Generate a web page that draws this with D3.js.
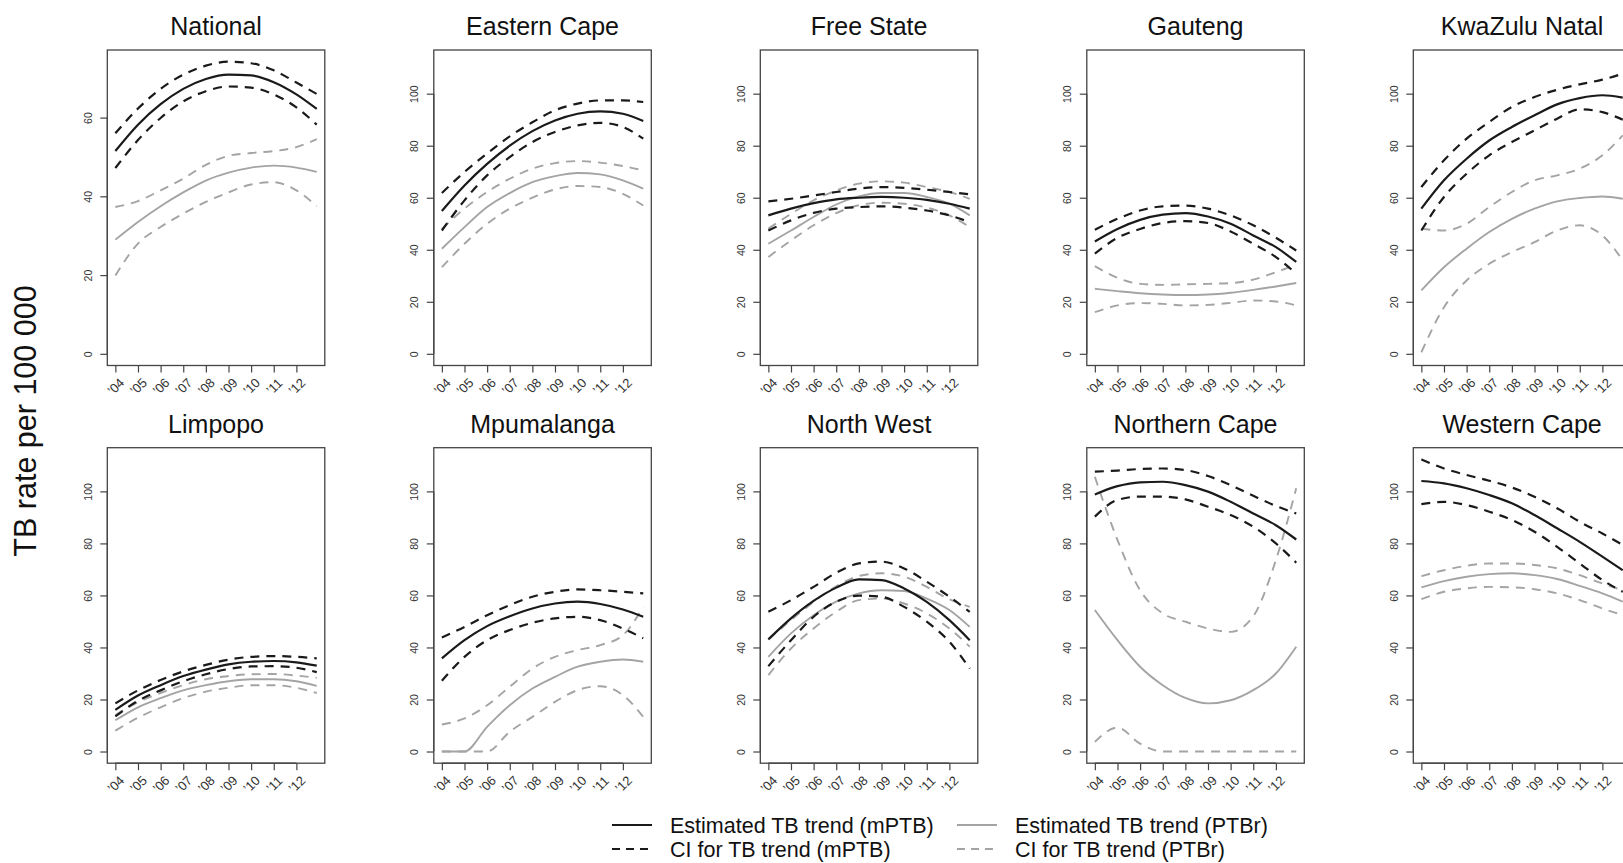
<!DOCTYPE html>
<html lang="en">
  <head>
    <meta charset="utf-8">
    <title>TB trends by province</title>
    <style>
      body {
        margin: 0;
        background: #fff;
      }
      svg text {
        font-family: "Liberation Sans", Arial, Helvetica, sans-serif;
      }
      .line {
        fill: none;
      }
      .axis path, .axis line {
        stroke: #444;
        stroke-width: 1.2px;
      }
    </style>
  </head>

  <body>
    <svg id="wrapper" width="1623" height="863"></svg>

    <script src="https://cdnjs.cloudflare.com/ajax/libs/d3/7.8.5/d3.min.js"></script>
    <script>
    // panels, in reading order (National has its own y scale)
    const regions = ['National', 'Eastern Cape', 'Free State', 'Gauteng', 'KwaZulu Natal',
      'Limpopo', 'Mpumalanga', 'North West', 'Northern Cape', 'Western Cape'];

    // x positions of the points ('04 .. '12, then end of series)
    const years = [2004, 2005, 2006, 2007, 2008, 2009, 2010, 2011, 2012, 2012.9];
    const tickYears = [2004, 2005, 2006, 2007, 2008, 2009, 2010, 2011, 2012];
    const tickLabels = ['\u201904', '\u201905', '\u201906', '\u201907', '\u201908', '\u201909', '\u201910', '\u201911', '\u201912'];
    const nationalTicks = [0, 20, 40, 60];
    const provinceTicks = [0, 20, 40, 60, 80, 100];

    // estimated TB trend (mPTB), one row per region
    const mptbEst = [
      [51.5, 58.2, 63.4, 67.3, 69.8, 70.9, 70.7, 69.0, 65.9, 62.2],
      [54.9, 64.7, 73.0, 80.0, 85.6, 89.7, 92.3, 93.2, 92.3, 89.5],
      [53.2, 55.8, 57.9, 59.4, 60.0, 60.3, 60.0, 59.2, 57.7, 55.8],
      [43.2, 48.0, 51.5, 53.5, 54.1, 52.8, 50.0, 45.5, 41.0, 35.3],
      [55.8, 66.7, 75.0, 82.0, 87.2, 91.7, 95.9, 98.3, 99.4, 98.5],
      [16.0, 21.5, 25.5, 29.0, 31.5, 33.5, 34.5, 34.8, 34.3, 33.0],
      [35.8, 42.8, 48.2, 52.0, 55.0, 56.9, 57.6, 56.7, 54.6, 51.8],
      [43.1, 51.2, 57.9, 63.0, 66.2, 65.9, 62.7, 57.5, 50.5, 42.8],
      [98.8, 102.0, 103.5, 103.7, 102.4, 99.9, 96.0, 91.5, 87.0, 81.5],
      [104.0, 103.1, 101.2, 98.6, 95.4, 90.9, 85.8, 80.6, 74.9, 69.7]
    ];
    const mptbHi = [
      [56.0, 62.3, 67.3, 70.9, 73.2, 74.2, 73.8, 72.0, 68.9, 66.0],
      [61.8, 69.9, 77.0, 83.6, 89.0, 93.6, 96.2, 97.4, 97.4, 96.8],
      [58.6, 59.6, 60.9, 62.2, 63.5, 64.1, 63.8, 63.1, 62.2, 61.3],
      [47.7, 51.9, 55.1, 56.7, 57.0, 55.8, 53.2, 49.4, 44.6, 39.7],
      [64.1, 74.4, 82.7, 89.1, 94.9, 98.7, 101.5, 103.6, 105.4, 107.7],
      [18.5, 23.5, 27.5, 30.8, 33.3, 35.3, 36.4, 36.7, 36.4, 35.8],
      [43.8, 47.9, 52.4, 56.3, 59.5, 61.4, 62.3, 62.0, 61.4, 60.8],
      [53.7, 58.2, 63.3, 68.7, 72.3, 73.0, 70.4, 65.3, 59.5, 53.7],
      [107.6, 108.0, 108.6, 108.8, 108.2, 105.9, 102.4, 98.3, 94.4, 91.5],
      [112.3, 108.8, 106.3, 104.1, 101.5, 97.9, 93.5, 88.3, 83.8, 79.4]
    ];
    const mptbLo = [
      [47.2, 54.3, 59.9, 64.1, 66.7, 67.9, 67.6, 65.9, 62.6, 58.2],
      [47.4, 59.0, 68.6, 75.6, 81.4, 85.3, 87.8, 88.8, 87.2, 82.7],
      [47.4, 51.3, 54.2, 55.8, 56.4, 56.7, 56.2, 55.1, 53.2, 50.6],
      [38.5, 44.6, 48.0, 50.3, 51.0, 50.3, 47.0, 42.3, 37.2, 30.8],
      [47.4, 60.3, 69.2, 76.3, 81.4, 85.9, 90.4, 94.0, 92.9, 90.0],
      [13.5, 19.5, 23.5, 27.0, 29.7, 31.7, 32.7, 32.8, 32.2, 30.5],
      [27.2, 36.4, 42.8, 46.7, 49.5, 51.2, 51.8, 50.5, 47.3, 43.5],
      [32.8, 42.8, 51.8, 57.6, 59.9, 59.5, 55.6, 49.9, 42.2, 31.9],
      [90.3, 96.7, 98.0, 98.0, 96.9, 94.1, 90.9, 86.4, 80.0, 72.6],
      [95.1, 96.0, 94.7, 92.2, 89.0, 84.5, 78.7, 72.3, 65.9, 61.4]
    ];

    // estimated TB trend (PTBr), one row per region
    const ptbrEst = [
      [29.0, 33.5, 37.5, 41.0, 44.0, 46.0, 47.3, 47.8, 47.3, 46.2],
      [40.4, 48.7, 56.4, 61.8, 66.0, 68.3, 69.5, 69.0, 66.7, 63.5],
      [42.3, 47.4, 52.6, 57.4, 60.5, 61.8, 61.8, 60.3, 57.7, 53.2],
      [25.0, 24.1, 23.3, 22.8, 22.6, 22.8, 23.5, 24.6, 25.9, 27.2],
      [24.4, 33.3, 40.4, 46.8, 51.9, 55.8, 58.6, 59.9, 60.5, 59.6],
      [12.0, 17.0, 20.5, 23.5, 25.5, 27.0, 27.8, 27.8, 27.0, 25.2],
      [0.0, 0.0, 9.5, 17.8, 24.2, 28.7, 32.6, 34.5, 35.4, 34.5],
      [36.4, 45.4, 52.4, 57.6, 60.8, 62.0, 61.7, 58.8, 54.4, 47.9],
      [54.4, 42.8, 32.6, 25.5, 20.6, 18.5, 19.7, 23.6, 30.0, 40.3],
      [63.1, 65.5, 67.2, 68.2, 68.5, 67.8, 66.3, 63.7, 60.8, 57.6]
    ];
    const ptbrHi = [
      [37.3, 38.8, 41.5, 44.5, 48.0, 50.3, 51.0, 51.5, 52.5, 54.5],
      [48.0, 55.8, 62.2, 67.3, 71.2, 73.3, 74.1, 73.5, 72.2, 70.5],
      [48.1, 53.8, 59.0, 62.8, 65.4, 66.3, 65.8, 64.1, 62.2, 59.6],
      [33.7, 29.2, 26.9, 26.5, 26.7, 26.9, 27.2, 28.5, 31.4, 34.2],
      [48.1, 47.4, 50.0, 56.4, 62.2, 66.7, 68.6, 71.2, 76.3, 84.0],
      [14.0, 19.0, 22.5, 25.5, 27.8, 29.0, 29.7, 29.8, 29.2, 28.3],
      [10.4, 12.7, 17.8, 24.9, 31.9, 36.4, 39.0, 40.9, 44.7, 55.6],
      [43.1, 50.5, 57.5, 63.5, 67.5, 68.5, 67.2, 63.3, 58.5, 55.6],
      [105.6, 81.3, 62.0, 53.1, 49.9, 47.3, 46.0, 52.0, 73.6, 101.2],
      [67.4, 69.7, 71.4, 72.3, 72.3, 71.7, 70.4, 67.8, 64.6, 62.0]
    ];
    const ptbrLo = [
      [19.9, 28.0, 32.2, 35.6, 38.6, 41.0, 43.0, 43.6, 41.5, 37.5],
      [33.3, 42.3, 50.0, 55.8, 60.0, 63.2, 64.5, 64.1, 61.5, 57.0],
      [37.2, 43.6, 49.4, 54.1, 57.1, 58.1, 57.7, 56.2, 53.2, 48.7],
      [16.0, 18.6, 19.5, 19.2, 18.6, 18.8, 19.6, 20.5, 20.1, 18.6],
      [0.6, 17.9, 28.2, 34.6, 39.1, 42.9, 47.4, 49.4, 45.5, 35.9],
      [8.0, 13.0, 17.0, 20.5, 23.0, 24.5, 25.5, 25.5, 24.5, 22.5],
      [0.0, 0.0, 0.0, 7.6, 13.3, 19.1, 23.6, 25.1, 21.7, 13.3],
      [29.4, 39.6, 47.3, 53.7, 58.2, 58.8, 56.9, 53.1, 47.3, 40.3],
      [3.7, 9.2, 3.0, 0.0, 0.0, 0.0, 0.0, 0.0, 0.0, 0.0],
      [58.6, 61.4, 62.7, 63.3, 63.1, 62.4, 60.8, 58.2, 55.0, 52.4]
    ];

    const legendLabels = [
      'Estimated TB trend (mPTB)', 'CI for TB trend (mPTB)',
      'Estimated TB trend (PTBr)', 'CI for TB trend (PTBr)'
    ];

    // layout (panel boxes)
    const colLeft = 107.3, colStep = 326.5, boxW = 217.5, boxH = 315.5;
    const rowTop = [50, 447.7];
    const black = '#1a1a1a';
    const grey = '#a4a4a4';

    const svg = d3.select('#wrapper');

    // R style axis limits: data range widened by 4% on both sides
    function pad(lo, hi) {
      const d = (hi - lo) * 0.04;
      return [lo - d, hi + d];
    }

    const provMax = d3.max(mptbHi.slice(1).concat(ptbrHi.slice(1)), r => d3.max(r));
    const natMax = d3.max(mptbHi[0].concat(ptbrHi[0]));

    const series = [
      {vals: mptbEst, color: black, width: 2.2, dash: null},
      {vals: mptbHi, color: black, width: 2.2, dash: '9,7'},
      {vals: mptbLo, color: black, width: 2.2, dash: '9,7'},
      {vals: ptbrEst, color: grey, width: 1.9, dash: null},
      {vals: ptbrHi, color: grey, width: 1.9, dash: '9,7'},
      {vals: ptbrLo, color: grey, width: 1.9, dash: '9,7'}
    ];

    regions.forEach(function(name, i) {
      const left = colLeft + (i % 5) * colStep;
      const top = rowTop[Math.floor(i / 5)];

      const x = d3.scaleLinear()
        .domain(pad(years[0], years[years.length - 1]))
        .range([left, left + boxW]);
      const y = d3.scaleLinear()
        .domain(pad(0, i === 0 ? natMax : provMax))
        .range([top + boxH, top]);

      // clip lines to the plot region
      svg.append('clipPath')
        .attr('id', 'clip' + i)
        .append('rect')
        .attr('x', left).attr('y', top)
        .attr('width', boxW).attr('height', boxH);

      const line = d3.line()
        .x(function(d, j) { return x(years[j]); })
        .y(function(d) { return y(d); })
        .curve(d3.curveMonotoneX);

      const g = svg.append('g').attr('clip-path', 'url(#clip' + i + ')');
      // draw grey (PTBr) first, black (mPTB) on top
      series.slice(3).concat(series.slice(0, 3)).forEach(function(s) {
        g.append('path')
          .datum(s.vals[i])
          .attr('class', 'line')
          .attr('stroke', s.color)
          .attr('stroke-width', s.width)
          .attr('stroke-dasharray', s.dash)
          .attr('d', line);
      });

      // box
      svg.append('rect')
        .attr('x', left).attr('y', top)
        .attr('width', boxW).attr('height', boxH)
        .attr('fill', 'none')
        .attr('stroke', '#444')
        .attr('stroke-width', 1.3);

      // y-axis
      const ticks = i === 0 ? nationalTicks : provinceTicks;
      const yAxis = svg.append('g')
        .attr('class', 'axis')
        .attr('transform', 'translate(' + left + ',0)')
        .call(d3.axisLeft(y).tickValues(ticks).tickSize(7).tickSizeOuter(0));
      yAxis.select('.domain')
        .attr('d', 'M0,' + y(ticks[0]) + 'V' + y(ticks[ticks.length - 1]));
      yAxis.selectAll('text')
        .attr('x', null).attr('dy', '0.35em')
        .attr('text-anchor', 'middle')
        .attr('transform', 'translate(-19,0) rotate(-90)')
        .attr('fill', '#333')
        .style('font-size', '10.5px');

      // x-axis
      const xAxis = svg.append('g')
        .attr('class', 'axis')
        .attr('transform', 'translate(0,' + (top + boxH) + ')')
        .call(d3.axisBottom(x).tickValues(tickYears)
          .tickFormat(function(d, j) { return tickLabels[j]; })
          .tickSize(7).tickSizeOuter(0));
      xAxis.select('.domain')
        .attr('d', 'M' + x(tickYears[0]) + ',0H' + x(tickYears[tickYears.length - 1]));
      xAxis.selectAll('text')
        .attr('y', null).attr('dy', '0.35em')
        .attr('text-anchor', 'middle')
        .attr('transform', 'translate(0,21) rotate(-45)')
        .attr('fill', '#333')
        .style('font-size', '13px');

      // panel title
      svg.append('text')
        .attr('x', left + boxW / 2)
        .attr('y', top - 15)
        .attr('text-anchor', 'middle')
        .attr('fill', '#111')
        .style('font-size', '25px')
        .text(name);
    });

    // y-axis title
    svg.append('text')
      .attr('transform', 'translate(25,421) rotate(-90)')
      .attr('text-anchor', 'middle')
      .attr('dy', '0.35em')
      .attr('fill', '#111')
      .style('font-size', '30.5px')
      .text('TB rate per 100 000');

    // legend
    const legendCols = [612, 957];
    const legendRows = [825, 849];
    const legendStyle = [series[0], series[1], series[3], series[4]];
    legendLabels.forEach(function(label, k) {
      const lx = legendCols[Math.floor(k / 2)];
      const ly = legendRows[k % 2];
      const s = legendStyle[k];
      svg.append('line')
        .attr('x1', lx).attr('x2', lx + 40)
        .attr('y1', ly).attr('y2', ly)
        .attr('stroke', s.color)
        .attr('stroke-width', s.width)
        .attr('stroke-dasharray', s.dash ? '8,6' : null);
      svg.append('text')
        .attr('x', lx + 58)
        .attr('y', ly)
        .attr('dy', '0.35em')
        .attr('fill', '#111')
        .style('font-size', '21.5px')
        .text(label);
    });
    </script>
  </body>
</html>
